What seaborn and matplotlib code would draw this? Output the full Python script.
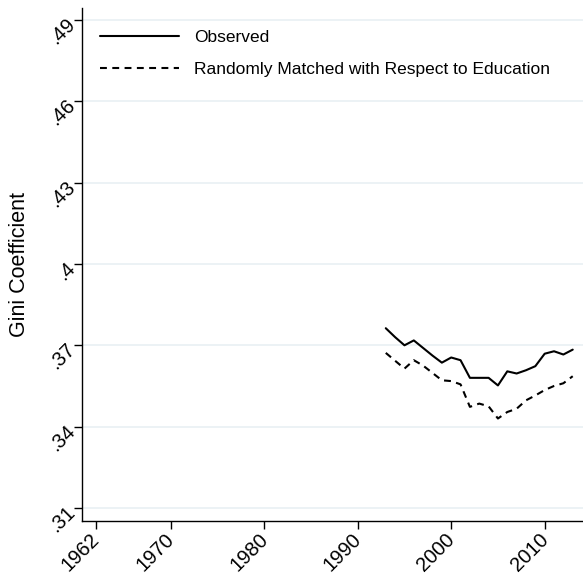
import matplotlib
matplotlib.use("Agg")
import matplotlib.pyplot as plt
import matplotlib.transforms as mtransforms
import seaborn as sns
import pandas as pd

years = list(range(1993, 2014))
observed = [.3763, .3730, .3700, .3718, .3690, .3662, .3636, .3655, .3645, .3580, .3580,
            .3580, .3552, .3604, .3596, .3608, .3623, .3669, .3678, .3666, .3684]
matched = [.3672, .3643, .3614, .3645, .3625, .3598, .3571, .3568, .3556, .3473, .3485,
           .3475, .3430, .3454, .3466, .3497, .3515, .3535, .3550, .3560, .3586]
series_names = ["Observed", "Randomly Matched with Respect to Education"]
xticks = [1962, 1970, 1980, 1990, 2000, 2010]
yticks = [.31, .34, .37, .40, .43, .46, .49]
ytick_labels = [".31", ".34", ".37", ".4", ".43", ".46", ".49"]

df = pd.DataFrame({
    "year": years * 2,
    "gini": observed + matched,
    "series": [series_names[0]] * len(years) + [series_names[1]] * len(years),
})

sns.set_style("white")
plt.rcParams["font.family"] = ["Liberation Sans", "DejaVu Sans"]
plt.rcParams["text.color"] = "black"
plt.rcParams["axes.labelcolor"] = "black"
plt.rcParams["xtick.color"] = "black"
plt.rcParams["ytick.color"] = "black"

fig = plt.figure(figsize=(5.83, 5.74), dpi=100)
ax = fig.add_axes([82 / 583, 1 - 521 / 574, 1 - 82 / 583, (521 - 8) / 574])

sns.lineplot(data=df, x="year", y="gini", style="series", style_order=series_names,
             dashes={series_names[0]: "", series_names[1]: (3.3, 2.6)},
             color="black", linewidth=1.5, ax=ax)

ax.set_xlim(1960.5, 2014.1)
ax.set_ylim(.3052, .4944)
ax.set_xticks(xticks)
ax.set_xticklabels([str(t) for t in xticks], rotation=45, ha="right", rotation_mode="anchor", fontsize=14.5)
ax.set_yticks(yticks)
ax.set_yticklabels(ytick_labels, rotation=45, ha="right", rotation_mode="anchor", fontsize=14.5)
ax.tick_params(axis="both", direction="out", length=6, width=1, colors="black", bottom=True, left=True, pad=2)

offset = mtransforms.ScaledTranslation(-6 / 100, 2 / 100, fig.dpi_scale_trans)
for lab in ax.get_xticklabels():
    lab.set_transform(lab.get_transform() + offset)

ax.yaxis.grid(True, color="#e9f0f3", linewidth=1.2)
ax.xaxis.grid(False)
ax.set_axisbelow(True)

for s in ["top", "right"]:
    ax.spines[s].set_visible(False)
for s in ["left", "bottom"]:
    ax.spines[s].set_color("black")
    ax.spines[s].set_linewidth(1)

ax.set_xlabel("")
ax.set_ylabel("Gini Coefficient", fontsize=15.5, labelpad=11)

leg = ax.legend(loc="upper left", bbox_to_anchor=(0.004, 0.987), frameon=False, fontsize=12.5,
                handlelength=4.6, handletextpad=0.85, labelspacing=0.95)

fig.savefig("out.png", dpi=100)
